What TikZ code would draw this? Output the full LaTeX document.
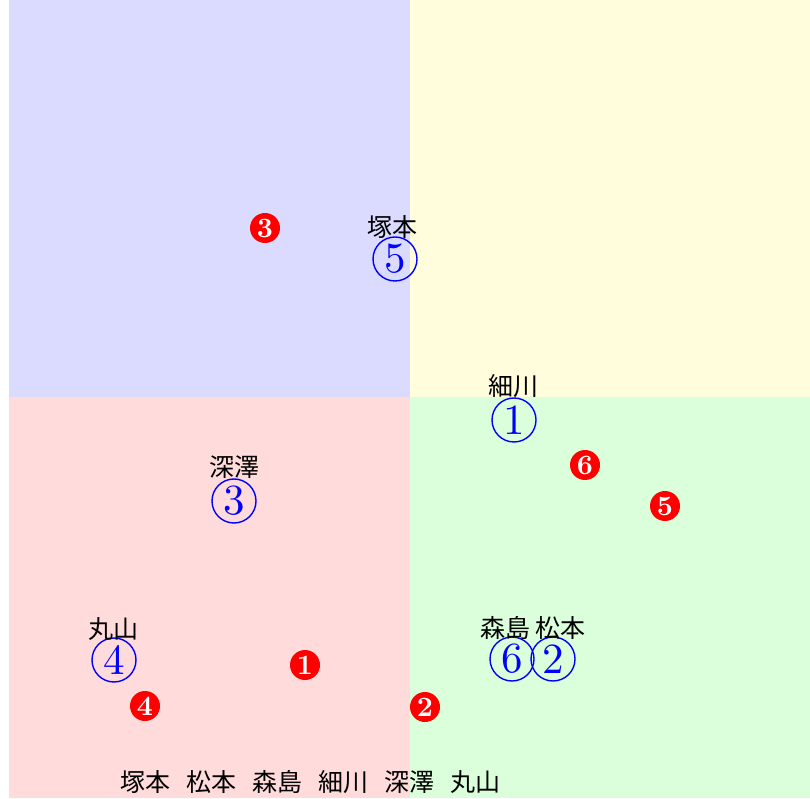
\documentclass[tikz,border=0pt]{standalone}
\usepackage{fontspec}
\newfontfamily\jpfont{Noto Sans CJK JP}
\newfontfamily\numfont{lmroman10-regular}[Extension=.otf,BoldFont=lmroman10-bold]
\begin{document}
\begin{tikzpicture}[x=1pt,y=1pt,
  bluenum/.style={circle,draw=blue,line width=1.4pt,text=blue,minimum size=44pt,inner sep=0pt,font=\numfont\fontsize{43}{43}\selectfont},
  rednum/.style={circle,fill=red,text=white,minimum size=30pt,inner sep=0pt,font=\numfont\fontsize{28}{28}\selectfont\bfseries},
  namelbl/.style={inner sep=0pt,font=\jpfont\fontsize{25}{25}\selectfont}]
\useasboundingbox (0,0) rectangle (810,798);
% quadrants
\fill[blue!14]   (9,401) rectangle (410,798);
\fill[yellow!14] (410,401) rectangle (810,798);
\fill[red!14]    (9,0) rectangle (410,401);
\fill[green!14]  (410,0) rectangle (810,401);
% blue circled numbers
\node[bluenum] (b5) at (395,539) {5};
\node[namelbl] (l5) at (392,571) {塚本};
\node[bluenum] (b1) at (514,378) {1};
\node[namelbl] (l1) at (513,412) {細川};
\node[bluenum] (b3) at (234,297) {3};
\node[namelbl] (l3) at (234,331) {深澤};
\node[bluenum] (b4) at (114,138) {4};
\node[namelbl] (l4) at (113,169) {丸山};
\node[bluenum] (b6) at (512,139) {6};
\node[bluenum] (b2) at (553,139) {2};
\node[namelbl] (l62) at (533,170) {森島 松本};
% red numbers
\node[rednum] (r3) at (265,570) {3};
\node[rednum] (r1) at (305,133) {1};
\node[rednum] (r4) at (145,92) {4};
\node[rednum] (r2) at (425,91) {2};
\node[rednum] (r6) at (585,333) {6};
\node[rednum] (r5) at (665,292) {5};
% bottom list
\node[namelbl] (list) at (310,16) {塚本\hspace{16pt}松本\hspace{16pt}森島\hspace{16pt}細川\hspace{16pt}深澤\hspace{16pt}丸山};
\end{tikzpicture}
\end{document}
